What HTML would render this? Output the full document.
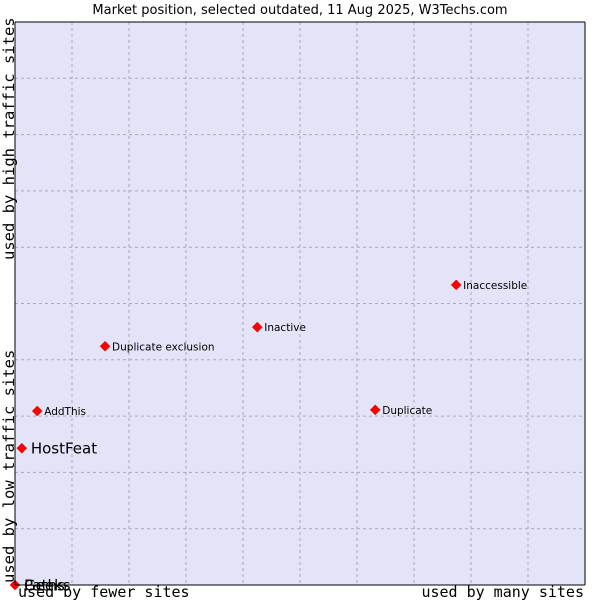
<!DOCTYPE html>
<html><head><meta charset="utf-8"><style>
body{margin:0;background:#fff;width:600px;height:600px;overflow:hidden}
svg text{font-family:"DejaVu Sans","Liberation Sans",sans-serif}
.mono{font-family:"DejaVu Sans Mono","Liberation Mono",monospace}
</style></head><body>
<svg id="chart" width="600" height="600">
<text x="300" y="14" text-anchor="middle" font-size="13" fill="#000">Market position, selected outdated, 11 Aug 2025, W3Techs.com</text>
<rect x="15" y="22" width="570" height="563" fill="#e4e4f8"/>
<g id="grid"></g>
<g id="marks"></g>
<line x1="15" y1="22" x2="15" y2="585" stroke="#000"/>
<line x1="15" y1="22" x2="585" y2="22" stroke="#000"/>
<line x1="585" y1="22" x2="585" y2="585" stroke="#000"/>
<line x1="15" y1="585" x2="585" y2="585" stroke="#000"/>
<text class="mono" x="18" y="597" font-size="15">used by fewer sites</text>
<text class="mono" x="584" y="597" font-size="15" text-anchor="end">used by many sites</text>
<text class="mono" transform="translate(14,583) rotate(-90)" font-size="15.5">used by low traffic sites</text>
<text class="mono" transform="translate(14,260) rotate(-90)" font-size="15.5">used by high traffic sites</text>
</svg>
<script>
const names=["Inaccessible","Inactive","Duplicate exclusion","AddThis","Duplicate","HostFeat","Paths","Geeks"];
const xVals=[77.4,42.5,15.8,3.9,63.2,1.2,0,0];
const yVals=[53.3,45.8,42.4,30.9,31.1,24.3,0,0];
const bigLabel=[false,false,false,false,false,true,true,true];
const NS="http://www.w3.org/2000/svg";
const X0=15,X1=585,Y0=585,Y1=22;
const sx=v=>X0+(X1-X0)*v/100, sy=v=>Y0-(Y0-Y1)*v/100;
const grid=document.getElementById('grid');
for(let k=1;k<10;k++){
  const v=document.createElementNS(NS,'line');
  v.setAttribute('x1',sx(k*10));v.setAttribute('x2',sx(k*10));v.setAttribute('y1',Y1);v.setAttribute('y2',Y0);
  v.setAttribute('stroke','#aaa');v.setAttribute('stroke-dasharray','3,3');
  
  
  grid.appendChild(v);
  const h=document.createElementNS(NS,'line');
  h.setAttribute('y1',sy(k*10));h.setAttribute('y2',sy(k*10));h.setAttribute('x1',X0);h.setAttribute('x2',X1);
  h.setAttribute('stroke','#aaa');h.setAttribute('stroke-dasharray','3,3');
  
  
  grid.appendChild(h);
}
const marks=document.getElementById('marks');
names.forEach((n,i)=>{
  const x=sx(xVals[i]),y=sy(yVals[i]);
  const p=document.createElementNS(NS,'path');
  p.setAttribute('d',`M${x} ${y-5}L${x+5} ${y}L${x} ${y+5}L${x-5} ${y}Z`);
  p.setAttribute('fill','#f00');p.setAttribute('stroke','#c00');p.setAttribute('stroke-width','0.5');
  
  
  marks.appendChild(p);
  const t=document.createElementNS(NS,'text');
  t.setAttribute('x',x+(bigLabel[i]?9:7));t.setAttribute('y',y+(bigLabel[i]?5.5:4));
  t.setAttribute('font-size',bigLabel[i]?'15':'10.5');
  t.textContent=n;
  
  
  marks.appendChild(t);
});
</script>
</body></html>
